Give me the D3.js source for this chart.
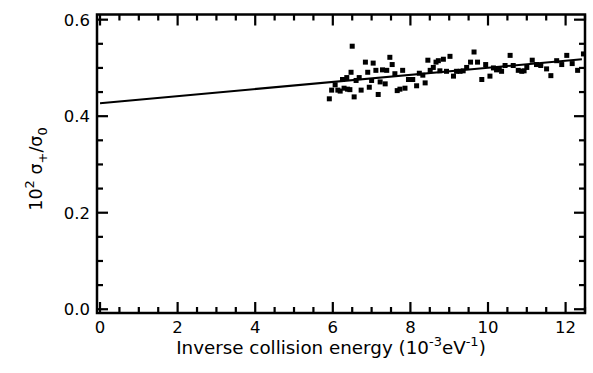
<!DOCTYPE html>
<html>
<head>
<meta charset="utf-8">
<script src="https://cdn.jsdelivr.net/npm/d3@7"></script>
<style>
  body { margin: 0; background: #fff; }
  text { font-family: "DejaVu Sans", sans-serif; fill: #000; }
</style>
</head>
<body>
<div id="container"></div>
<script>
/* CONSTANTS */
const width = 593,
  height = 373,
  margin = { top: 14.5, right: 8, bottom: 60, left: 97 };

// measured points: inverse collision energy (10^-3 eV^-1) and 10^2 sigma+/sigma0
const invEnergy = [5.91, 5.97, 6.06, 6.13, 6.19, 6.25, 6.29, 6.36, 6.38, 6.44,
  6.47, 6.50, 6.55, 6.60, 6.68, 6.73, 6.84, 6.90, 6.94, 7.00,
  7.04, 7.11, 7.17, 7.22, 7.28, 7.35, 7.39, 7.47, 7.53, 7.60,
  7.66, 7.73, 7.80, 7.86, 7.95, 8.06, 8.16, 8.23, 8.32, 8.38,
  8.45, 8.51, 8.59, 8.66, 8.72, 8.76, 8.85, 8.93, 9.02, 9.11,
  9.19, 9.28, 9.36, 9.45, 9.55, 9.64, 9.73, 9.84, 9.94, 10.05,
  10.14, 10.22, 10.29, 10.35, 10.44, 10.57, 10.65, 10.78, 10.87, 10.93,
  11.00, 11.14, 11.25, 11.36, 11.51, 11.62, 11.77, 11.90, 12.03, 12.17,
  12.31, 12.46];
const ratio = [0.436, 0.454, 0.465, 0.454, 0.452, 0.476, 0.458, 0.480, 0.456, 0.455,
  0.491, 0.545, 0.440, 0.474, 0.480, 0.454, 0.512, 0.491, 0.460, 0.474,
  0.510, 0.495, 0.445, 0.471, 0.496, 0.467, 0.495, 0.522, 0.507, 0.488,
  0.453, 0.456, 0.495, 0.458, 0.476, 0.476, 0.463, 0.489, 0.485, 0.469,
  0.516, 0.495, 0.501, 0.512, 0.515, 0.494, 0.518, 0.493, 0.524, 0.483,
  0.493, 0.493, 0.494, 0.501, 0.512, 0.533, 0.512, 0.476, 0.507, 0.483,
  0.500, 0.496, 0.498, 0.493, 0.505, 0.526, 0.505, 0.495, 0.493, 0.494,
  0.501, 0.516, 0.507, 0.505, 0.498, 0.484, 0.515, 0.507, 0.526, 0.509,
  0.495, 0.529];

// straight-line fit drawn over the whole range
const fitX = [0, 12.42];
const fitY = [0.427, 0.518];

const xTicks = [0, 2, 4, 6, 8, 10, 12];
const yTicks = [0.0, 0.2, 0.4, 0.6];
const xMinorTicks = [0.5, 1, 1.5, 2.5, 3, 3.5, 4.5, 5, 5.5, 6.5, 7, 7.5, 8.5, 9, 9.5, 10.5, 11, 11.5, 12.5];
const yMinorTicks = [0.05, 0.1, 0.15, 0.25, 0.3, 0.35, 0.45, 0.5, 0.55];

const points = invEnergy.map((d, i) => ({ x: d, y: ratio[i] }));
const fit = fitX.map((d, i) => ({ x: d, y: fitY[i] }));

const svg = d3.select("#container")
  .append("svg")
  .attr("width", width)
  .attr("height", height);

// + SCALES
const xScale = d3.scaleLinear()
  .domain([-0.078, 12.5])
  .range([margin.left, width - margin.right]);

const yScale = d3.scaleLinear()
  .domain([-0.0078, 0.6107])
  .range([height - margin.bottom, margin.top]);

const plotLeft = margin.left, plotRight = width - margin.right;
const plotBottom = height - margin.bottom, plotTop = margin.top;
const major = 11, minor = 6, tw = 2.2;

// + TICKS: inward on all four sides, drawn as thin filled bars
const xTickData = [];
xTicks.forEach(v => xTickData.push({ v, len: major, side: "b" }, { v, len: major, side: "t" }));
xMinorTicks.forEach(v => xTickData.push({ v, len: minor, side: "b" }, { v, len: minor, side: "t" }));
const yTickData = [];
yTicks.forEach(v => yTickData.push({ v, len: major, side: "l" }, { v, len: major, side: "r" }));
yMinorTicks.forEach(v => yTickData.push({ v, len: minor, side: "l" }, { v, len: minor, side: "r" }));

svg.selectAll(".xt")
  .data(xTickData)
  .join("rect")
  .attr("class", "xt")
  .attr("x", d => xScale(d.v) - tw / 2)
  .attr("y", d => d.side === "b" ? plotBottom - d.len : plotTop)
  .attr("width", tw)
  .attr("height", d => d.len)
  .attr("fill", "black");

svg.selectAll(".yt")
  .data(yTickData)
  .join("rect")
  .attr("class", "yt")
  .attr("x", d => d.side === "l" ? plotLeft : plotRight - d.len)
  .attr("y", d => yScale(d.v) - tw / 2)
  .attr("width", d => d.len)
  .attr("height", tw)
  .attr("fill", "black");

// frame
svg.append("rect")
  .attr("x", plotLeft)
  .attr("y", plotTop)
  .attr("width", plotRight - plotLeft)
  .attr("height", plotBottom - plotTop)
  .attr("fill", "none")
  .attr("stroke", "black")
  .attr("stroke-width", 2.5);

// + TICK LABELS
svg.selectAll(".xTick")
  .data(xTicks)
  .join("text")
  .attr("class", "xTick")
  .attr("x", d => xScale(d))
  .attr("y", 333)
  .attr("text-anchor", "middle")
  .attr("font-size", 16.5)
  .text(d => d);

svg.selectAll(".yTick")
  .data(yTicks)
  .join("text")
  .attr("class", "yTick")
  .attr("x", 90)
  .attr("y", d => yScale(d) + 6)
  .attr("text-anchor", "end")
  .attr("font-size", 16.5)
  .text(d => d3.format(".1f")(d));

// + AXIS TITLES
const xLabel = svg.append("text")
  .attr("x", 331)
  .attr("y", 353.5)
  .attr("text-anchor", "middle")
  .attr("font-size", 18.3);
xLabel.append("tspan").text("Inverse collision energy (10");
xLabel.append("tspan").attr("dy", -8).attr("font-size", 13).text("-3");
xLabel.append("tspan").attr("dy", 8).text("eV");
xLabel.append("tspan").attr("dy", -8).attr("font-size", 13).text("-1");
xLabel.append("tspan").attr("dy", 8).text(")");

const yLabel = svg.append("text")
  .attr("transform", `translate(42, 169) rotate(-90)`)
  .attr("text-anchor", "middle")
  .attr("font-size", 17.5);
yLabel.append("tspan").text("10");
yLabel.append("tspan").attr("dy", -8).attr("font-size", 13).text("2");
yLabel.append("tspan").attr("dy", 8).text(" σ");
yLabel.append("tspan").attr("dy", 5).attr("font-size", 13).text("+");
yLabel.append("tspan").attr("dy", -5).text("/σ");
yLabel.append("tspan").attr("dy", 5).attr("font-size", 13).text("0");

// + FIT LINE
const lineGen = d3.line()
  .x(d => xScale(d.x))
  .y(d => yScale(d.y));

svg.append("path")
  .datum(fit)
  .attr("fill", "none")
  .attr("stroke", "black")
  .attr("stroke-width", 2)
  .attr("d", lineGen);

// + DATA POINTS
const s = 5;
svg.selectAll(".pt")
  .data(points)
  .join("rect")
  .attr("class", "pt")
  .attr("x", d => xScale(d.x) - s / 2)
  .attr("y", d => yScale(d.y) - s / 2)
  .attr("width", s)
  .attr("height", s)
  .attr("fill", "black");
</script>
</body>
</html>
